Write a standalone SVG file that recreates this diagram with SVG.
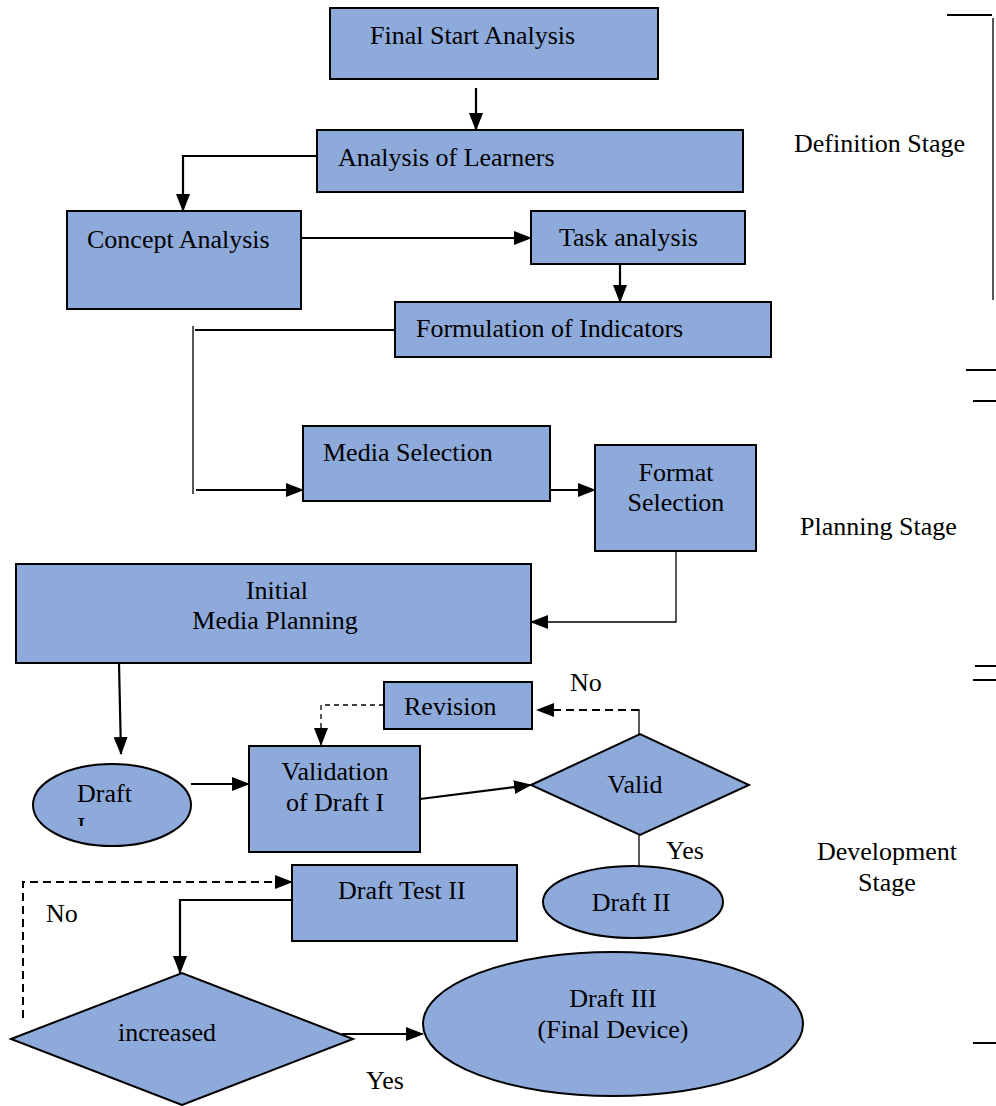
<svg xmlns="http://www.w3.org/2000/svg" width="996" height="1106" viewBox="0 0 996 1106" font-family="Liberation Serif, Times New Roman, DejaVu Serif, serif">
<style>
.n{fill:#8EAADB;stroke:#000;stroke-width:2}
.t{font-size:26px;fill:#000}
.c{stroke:#000;stroke-width:2.2;fill:none}
.th{stroke:#000;stroke-width:1.3;fill:none}
.d{stroke:#000;stroke-width:2;fill:none;stroke-dasharray:8 5}
.d2{stroke:#000;stroke-width:1.3;fill:none;stroke-dasharray:5 4}
.b{stroke:#000;stroke-width:2;fill:none}
</style>
<defs>
<marker id="ah" markerUnits="userSpaceOnUse" markerWidth="18" markerHeight="18" viewBox="0 0 18 18" refX="17" refY="9" orient="auto">
<path d="M0,2 L18,9 L0,16 Z" fill="#000"/>
</marker>
<clipPath id="clipI"><rect x="60" y="812" width="60" height="14"/></clipPath>
</defs>
<rect width="996" height="1106" fill="#fff"/>

<g id="connectors">
<path class="c" d="M476,88 V130" marker-end="url(#ah)"/>
<path class="c" d="M317,156 H183 V211" marker-end="url(#ah)"/>
<path class="c" d="M301,238 H531" marker-end="url(#ah)"/>
<path class="c" d="M620,264 V302" marker-end="url(#ah)"/>
<path class="c" d="M395,330 H195"/>
<path class="th" d="M193,326 V494"/>
<path class="c" d="M196,490 H303" marker-end="url(#ah)"/>
<path class="c" d="M550,490 H595" marker-end="url(#ah)"/>
<path class="th" d="M676,551 V622 H531" marker-end="url(#ah)"/>
<path class="c" d="M119,663 L121,754" marker-end="url(#ah)"/>
<path class="c" d="M191,784 H249" marker-end="url(#ah)"/>
<path class="c" d="M420,799 L531,785" marker-end="url(#ah)"/>
<path class="d" d="M639,710 H537" marker-end="url(#ah)"/>
<path class="th" d="M639,709 V734"/>
<path class="d2" d="M384,705 H321 V745" marker-end="url(#ah)"/>
<path class="th" d="M639,835 V866"/>
<path class="c" d="M292,900 H180 V973" marker-end="url(#ah)"/>
<path class="d" d="M23,1018 V882 H292" marker-end="url(#ah)"/>
<path class="c" d="M342,1034 H423" marker-end="url(#ah)"/>
</g>

<g id="bracket">
<path class="b" d="M947,15 H992"/>
<path class="th" d="M993,18 V300"/>
<path class="b" d="M966,370 H996"/>
<path class="b" d="M973,401 H996"/>
<path class="b" d="M975,666 H996"/>
<path class="b" d="M973,680 H996"/>
<path class="b" d="M973,1043 H996"/>
</g>

<g id="final-start-analysis"><rect class="n" x="330" y="8" width="328" height="71"/><text class="t" x="370" y="44">Final Start Analysis</text></g>
<g id="analysis-of-learners"><rect class="n" x="317" y="130" width="426" height="62"/><text class="t" x="338" y="166">Analysis of Learners</text></g>
<g id="concept-analysis"><rect class="n" x="67" y="211" width="234" height="98"/><text class="t" x="87" y="248">Concept Analysis</text></g>
<g id="task-analysis"><rect class="n" x="531" y="211" width="214" height="53"/><text class="t" x="559" y="246">Task analysis</text></g>
<g id="formulation"><rect class="n" x="395" y="302" width="376" height="55"/><text class="t" x="416" y="337">Formulation of Indicators</text></g>
<g id="media-selection"><rect class="n" x="303" y="426" width="247" height="75"/><text class="t" x="323" y="461">Media Selection</text></g>
<g id="format-selection"><rect class="n" x="595" y="445" width="161" height="106"/><text class="t" text-anchor="middle" x="676" y="481">Format</text><text class="t" text-anchor="middle" x="676" y="511">Selection</text></g>
<g id="initial-media-planning"><rect class="n" x="16" y="564" width="515" height="99"/><text class="t" text-anchor="middle" x="277" y="599">Initial</text><text class="t" text-anchor="middle" x="275" y="629">Media Planning</text></g>
<g id="revision"><rect class="n" x="384" y="682" width="148" height="47"/><text class="t" x="404" y="715">Revision</text></g>
<g id="validation"><rect class="n" x="249" y="746" width="171" height="106"/><text class="t" text-anchor="middle" x="335" y="780">Validation</text><text class="t" text-anchor="middle" x="335" y="811">of Draft I</text></g>
<g id="draft-i"><ellipse class="n" cx="112" cy="805" rx="79" ry="41"/><text class="t" x="77" y="802">Draft</text><text class="t" x="77" y="835" clip-path="url(#clipI)">I</text></g>
<g id="valid"><polygon class="n" points="531,785 640,734 749,785 640,835"/><text class="t" text-anchor="middle" x="635" y="793">Valid</text></g>
<g id="draft-ii"><ellipse class="n" cx="633" cy="902" rx="90" ry="36"/><text class="t" text-anchor="middle" x="631" y="911">Draft II</text></g>
<g id="draft-test-ii"><rect class="n" x="292" y="865" width="225" height="76"/><text class="t" x="338" y="899">Draft Test II</text></g>
<g id="increased"><polygon class="n" points="11,1039 182,973 353,1039 182,1105"/><text class="t" text-anchor="middle" x="167" y="1041">increased</text></g>
<g id="draft-iii"><ellipse class="n" cx="613" cy="1024" rx="190" ry="72"/><text class="t" text-anchor="middle" x="613" y="1007">Draft III</text><text class="t" text-anchor="middle" x="613" y="1038">(Final Device)</text></g>

<g id="labels">
<text class="t" x="794" y="152">Definition Stage</text>
<text class="t" x="800" y="535">Planning Stage</text>
<text class="t" text-anchor="middle" x="887" y="860">Development</text>
<text class="t" text-anchor="middle" x="887" y="891">Stage</text>
<text class="t" x="570" y="691">No</text>
<text class="t" x="666" y="859">Yes</text>
<text class="t" x="46" y="922">No</text>
<text class="t" x="366" y="1089">Yes</text>
</g>
</svg>
